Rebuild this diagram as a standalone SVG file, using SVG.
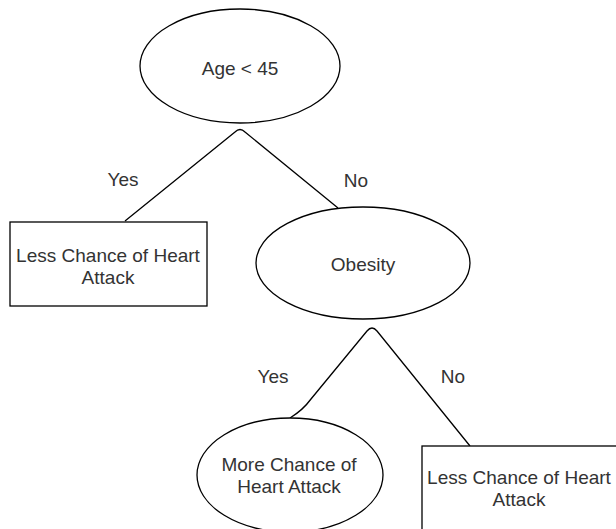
<svg xmlns="http://www.w3.org/2000/svg" width="616" height="529" viewBox="0 0 616 529">
<style>
.shape{fill:#fff;stroke:#000;stroke-width:1.3}
.edge{fill:none;stroke:#000;stroke-width:1.3}
text{font-family:"Liberation Sans",Arial,sans-serif;font-size:19px;fill:#333;text-anchor:middle}
</style>
<rect width="616" height="529" fill="#fff"/>
<g id="connectors">
<path class="edge" d="M125,221 L235,132 Q240,127 245,132 L338,208"/>
<path class="edge" d="M290,418 Q303,410 311,399 L367,331 Q372,325 377,331 L470,446"/>
<text x="123" y="186">Yes</text>
<text x="356" y="187">No</text>
<text x="273" y="383">Yes</text>
<text x="453" y="383">No</text>
</g>
<g id="age">
<ellipse class="shape" cx="240" cy="66" rx="100" ry="57"/>
<text x="240" y="75">Age &lt; 45</text>
</g>
<g id="less1">
<rect class="shape" x="10" y="222" width="197" height="84"/>
<text x="108" y="262">Less Chance of Heart</text>
<text x="108" y="284">Attack</text>
</g>
<g id="obesity">
<ellipse class="shape" cx="363" cy="263" rx="107" ry="56"/>
<text x="363" y="271">Obesity</text>
</g>
<g id="more">
<ellipse class="shape" cx="290" cy="475" rx="93" ry="57"/>
<text x="289" y="471">More Chance of</text>
<text x="289" y="493">Heart Attack</text>
</g>
<g id="less2">
<rect class="shape" x="422" y="446" width="196" height="90"/>
<text x="519" y="484">Less Chance of Heart</text>
<text x="519" y="506">Attack</text>
</g>
</svg>
